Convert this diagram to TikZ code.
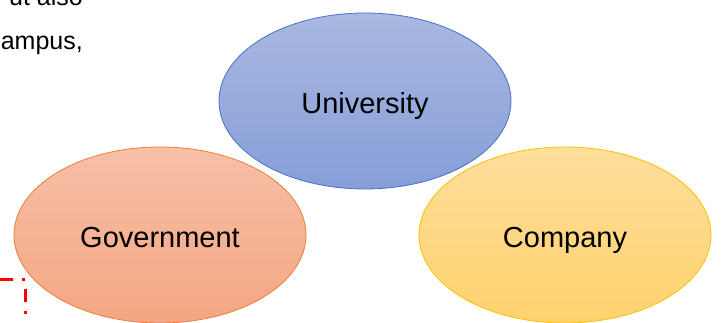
\documentclass[tikz,border=0pt]{standalone}
\usepackage{fontspec}
\setmainfont{Liberation Sans}
\usepackage{xcolor}
\usepackage{tikz}
\usetikzlibrary{shapes.geometric, positioning, calc}
\definecolor{unitop}{RGB}{170,184,225}
\definecolor{unibot}{RGB}{134,158,216}
\definecolor{uniline}{RGB}{68,114,196}
\definecolor{govtop}{RGB}{246,192,168}
\definecolor{govbot}{RGB}{245,166,130}
\definecolor{govline}{RGB}{237,125,49}
\definecolor{comtop}{RGB}{255,222,156}
\definecolor{combot}{RGB}{255,210,110}
\definecolor{comline}{RGB}{255,192,0}
\tikzset{
  party/.style={ellipse,minimum width=292pt,minimum height=176pt,inner sep=0pt,
    text height=25pt,text depth=0pt,
    font=\fontsize{29}{34}\selectfont,line width=0.8pt},
  uniblob/.style={party,draw=uniline,top color=unitop,bottom color=unibot},
  govblob/.style={party,draw=govline,top color=govtop,bottom color=govbot},
  comblob/.style={party,draw=comline,top color=comtop,bottom color=combot},
  bodytext/.style={font=\fontsize{25}{29}\selectfont,inner sep=0pt},
  redmark/.style={draw=red,line width=3pt,dash pattern=on 13pt off 9pt on 3pt off 9pt}
}
\begin{document}
\begin{tikzpicture}[x=1pt,y=1pt]
  \useasboundingbox (0,0) rectangle (721,323);
  \clip (0,0) rectangle (721,323);
  % page text behind the figure
  \node[bodytext,anchor=base east] (txtA) at (83,317) {ut also};
  \node[bodytext,anchor=base east] (txtB) at (83,273) {ampus,};
  \coordinate (markA) at (0,43);
  \coordinate (markB) at (25,43);
  \coordinate (markC) at (25,-5);
  \draw[redmark] (markA) -- (markB) -- (markC);
  % the three parties
  \node[uniblob] (uni) at (365,222) {University};
  \node[govblob] (gov) at (160,88) {Government};
  \node[comblob] (com) at (565,88) {Company};
\end{tikzpicture}
\end{document}
